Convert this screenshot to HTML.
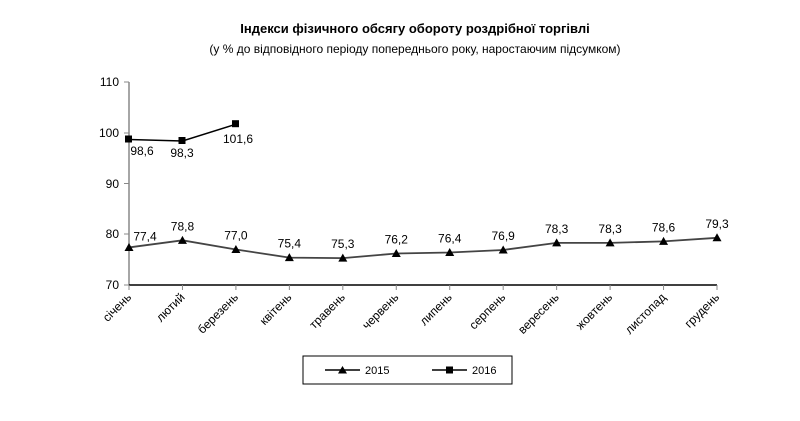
<!DOCTYPE html>
<html><head><meta charset="utf-8"><style>body{margin:0;background:#fff}svg{display:block}</style></head><body>
<svg width="800" height="421" xmlns="http://www.w3.org/2000/svg" font-family="Liberation Sans, DejaVu Sans, sans-serif">
<text x="415" y="33" text-anchor="middle" font-size="13" font-weight="bold" fill="#000">Індекси фізичного обсягу обороту роздрібної торгівлі</text>
<text x="415" y="53" text-anchor="middle" font-size="12" fill="#000">(у % до відповідного періоду попереднього року, наростаючим підсумком)</text>
<g stroke="#888" stroke-width="1.5"><line x1="129" y1="82" x2="129" y2="285"/></g>
<g stroke="#888" stroke-width="1">
<line x1="124" y1="82" x2="129" y2="82"/><line x1="124" y1="133" x2="129" y2="133"/><line x1="124" y1="183.5" x2="129" y2="183.5"/><line x1="124" y1="234" x2="129" y2="234"/><line x1="124" y1="285" x2="129" y2="285"/>
</g>
<line x1="129" y1="285" x2="717" y2="285" stroke="#000" stroke-width="1.5"/>
<g stroke="#888" stroke-width="1" id="ticks"></g>
<g font-size="12" fill="#000" text-anchor="end">
<text x="119" y="86">110</text><text x="119" y="137">100</text><text x="119" y="188">90</text><text x="119" y="238">80</text><text x="119" y="289">70</text>
</g>
<g id="xl" font-size="12" fill="#000" text-anchor="end"></g>
<polyline fill="none" stroke="#000" stroke-width="1.5" points="129,139.5 182.5,141 236,124.2"/>
<g fill="#000"><rect x="125" y="135.5" width="7" height="7"/><rect x="178.5" y="137" width="7" height="7"/><rect x="232" y="120.2" width="7" height="7"/></g>
<g font-size="12" fill="#000" text-anchor="middle">
<text x="142" y="155">98,6</text><text x="182" y="157">98,3</text><text x="238" y="143">101,6</text>
</g>
<polyline id="l15" fill="none" stroke="#444" stroke-width="1.8"/>
<g id="m15" fill="#000"></g>
<g id="v15" font-size="12" fill="#000" text-anchor="middle"></g>
<rect x="303" y="356" width="209" height="28" fill="#fff" stroke="#000" stroke-width="1"/>
<line x1="325" y1="370" x2="360" y2="370" stroke="#000" stroke-width="1.5"/>
<polygon points="342.5,366 338,373.5 347,373.5" fill="#000"/>
<text x="365" y="374" font-size="11" fill="#000">2015</text>
<line x1="432" y1="370" x2="467" y2="370" stroke="#000" stroke-width="1.5"/>
<rect x="446" y="366.5" width="7" height="7" fill="#000"/>
<text x="472" y="374" font-size="11" fill="#000">2016</text>
<script>
var m=["січень","лютий","березень","квітень","травень","червень","липень","серпень","вересень","жовтень","листопад","грудень"];
var v=[77.4,78.8,77.0,75.4,75.3,76.2,76.4,76.9,78.3,78.3,78.6,79.3];
var ns="http://www.w3.org/2000/svg";
function X(i){return 129+i*(717-129)/11}
function Y(a){return 285-(a-70)*5.075}
var pts=[];
for(var i=0;i<12;i++){
 var x=X(i),y=Y(v[i]);pts.push(x+","+y);
 var t=document.createElementNS(ns,"line");t.setAttribute("x1",x);t.setAttribute("x2",x);t.setAttribute("y1",285);t.setAttribute("y2",290);document.getElementById("ticks").appendChild(t);
 var l=document.createElementNS(ns,"text");l.setAttribute("transform","translate("+(x+3)+",298) rotate(-45)");l.textContent=m[i];document.getElementById("xl").appendChild(l);
 var p=document.createElementNS(ns,"polygon");p.setAttribute("points",x+","+(y-4.5)+" "+(x-4.5)+","+(y+3.5)+" "+(x+4.5)+","+(y+3.5));document.getElementById("m15").appendChild(p);
 var s=document.createElementNS(ns,"text");s.setAttribute("x",i==0?x+16:x);s.setAttribute("y",i==0?y-7:y-10);s.textContent=v[i].toFixed(1).replace(".",",");document.getElementById("v15").appendChild(s);
}
document.getElementById("l15").setAttribute("points",pts.join(" "));
</script>
</svg>
</body></html>
